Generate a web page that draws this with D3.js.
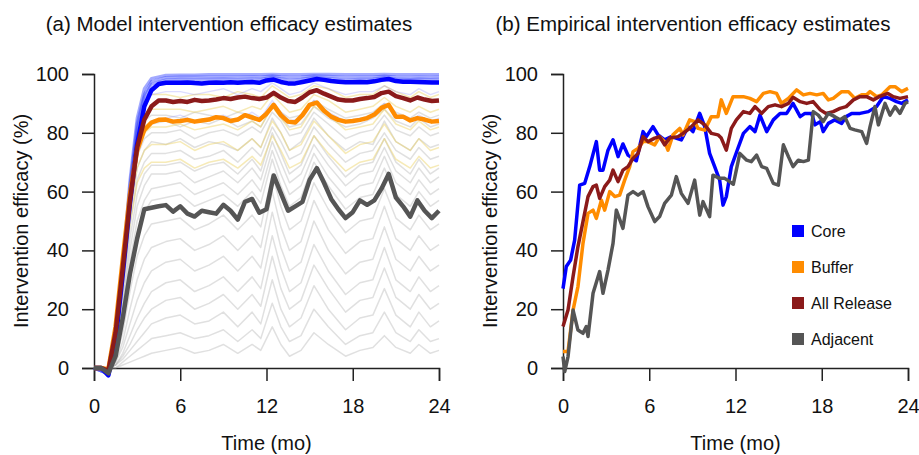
<!DOCTYPE html>
<html>
<head>
<meta charset="utf-8">
<script src="https://cdn.jsdelivr.net/npm/d3@7"></script>
<style>
  body { margin: 0; background: #fff; }
  svg { font-family: "Liberation Sans", Arial, sans-serif; }
</style>
</head>
<body>
<div id="chart"></div>
<script>
// ---- panel (a): model estimates ----
const modelTime = [0, 0.5, 1, 1.5, 2, 2.5, 3, 3.5, 4, 4.5, 5, 5.5, 6, 6.5, 7, 7.5, 8, 8.5, 9, 9.5,
    10, 10.5, 11, 11.5, 12, 12.5, 13, 13.5, 14, 14.5, 15, 15.5, 16, 16.5, 17, 17.5, 18, 18.5, 19, 19.5,
    20, 20.5, 21, 21.5, 22, 22.5, 23, 23.5, 24];
const modelCore = [0, 0, -2.5, 9, 32, 56, 76, 89, 94.5, 96.6, 97, 97, 97, 97.1, 96.9, 96.8, 97, 97.1, 97, 97.2,
    97, 97.2, 97.3, 97, 97.8, 98.1, 97.3, 96.8, 96.8, 97.3, 97.8, 98.3, 98, 97.6, 97.4, 97.2, 97.2, 97.3, 97.2, 97.5,
    98, 98.3, 97.6, 97.4, 97.4, 97.3, 97.2, 97.1, 97.1];
const modelBuffer = [0, 0, -0.5, 14, 37, 59, 74, 81, 83.5, 84.4, 84.5, 83.8, 84, 84.4, 83.8, 84.2, 84.5, 85.3, 85, 84,
    84.5, 86, 85.2, 84.4, 86.5, 89.5, 86, 83.8, 83.5, 86, 89.5, 90.3, 87.5, 85.5, 84.4, 83.8, 84, 84.4, 85, 86.2,
    88.5, 89.5, 85.5, 85.5, 84.2, 85, 84.5, 83.8, 84];
const modelRelease = [0, 0, -1, 12, 34, 57, 75, 84.5, 89, 91, 91, 90.5, 90.8, 90.5, 91.2, 90.8, 91, 91.3, 91.8, 91.5,
    92, 92.3, 91.8, 91.5, 92, 93.6, 92, 90.8, 90.5, 92, 93.8, 94.5, 93.3, 92.3, 91.3, 91, 91, 91.5, 91.8, 92.2,
    93.5, 94, 92.5, 91.8, 91, 92, 91.3, 90.8, 91];
const modelAdjacent = [0, 0, -1.8, 4, 17, 32, 44, 54, 54.5, 55, 55.4, 53.2, 55, 52.5, 51.5, 53.5, 53, 52.5, 55.5, 53.5,
    50.5, 56.5, 57.5, 52.8, 54, 65.5, 59.5, 53.5, 55, 56.5, 64, 68, 63, 57.5, 54, 51, 53, 57, 55.5, 57,
    61, 66, 58, 55, 51.5, 57, 53.5, 51, 53.5];

// individual simulation runs (faint background lines)
const simTime = [0, 1, 1.5, 2, 2.5, 3, 3.5, 4, 5, 6, 7, 8, 9, 10, 11, 11.6,
    12.4, 13, 13.6, 14.4, 15.3, 16.3, 17.5, 18.5, 19.4, 20.2, 21, 22, 22.6, 23.4, 24];
const simGrey = [
    [0, -1, 10, 35, 62, 78, 84, 86, 86, 85, 87, 86, 85, 87, 86, 84, 90, 87, 85, 86, 91, 88, 85, 86, 87, 90, 87, 85, 87, 85, 86],
    [0, -1, 9, 33, 58, 75, 81, 83, 84, 82, 84, 83, 85, 82, 84, 82, 89, 85, 82, 83, 89, 85, 82, 83, 85, 88, 84, 82, 85, 82, 83],
    [0, -1, 8, 30, 55, 72, 78, 80, 80, 81, 78, 80, 81, 79, 82, 80, 87, 84, 79, 80, 87, 83, 78, 80, 81, 86, 81, 79, 82, 79, 80],
    [0, -1, 7, 27, 51, 68, 74, 77, 76, 78, 75, 77, 76, 74, 78, 75, 85, 80, 74, 77, 85, 79, 74, 77, 76, 84, 77, 74, 78, 75, 76],
    [0, -1, 6, 25, 48, 64, 70, 73, 73, 74, 71, 72, 74, 70, 75, 72, 82, 77, 71, 73, 82, 76, 70, 73, 74, 80, 74, 71, 75, 71, 72],
    [0, -1, 5, 22, 44, 59, 66, 69, 69, 70, 67, 69, 70, 66, 71, 67, 80, 73, 66, 69, 79, 72, 65, 69, 70, 78, 70, 66, 71, 66, 68],
    [0, -1, 5, 20, 40, 55, 62, 66, 66, 67, 63, 65, 67, 63, 68, 64, 77, 70, 63, 66, 76, 69, 62, 66, 67, 75, 67, 63, 68, 63, 65],
    [0, -1, 4, 18, 36, 50, 57, 61, 62, 63, 59, 61, 63, 59, 64, 60, 74, 66, 59, 62, 73, 65, 58, 62, 63, 72, 63, 59, 64, 59, 61],
    [0, -1, 4, 16, 33, 46, 53, 57, 58, 59, 55, 57, 59, 55, 60, 56, 71, 62, 55, 58, 70, 62, 54, 58, 59, 68, 59, 55, 60, 55, 57],
    [0, -1, 3, 12, 26, 38, 45, 49, 50, 51, 47, 49, 52, 47, 52, 48, 66, 55, 47, 50, 63, 54, 46, 50, 51, 61, 51, 47, 52, 47, 49],
    [0, -1, 2, 9, 20, 30, 37, 41, 43, 44, 40, 42, 45, 40, 45, 41, 60, 48, 40, 43, 57, 47, 39, 43, 44, 55, 44, 40, 45, 40, 42],
    [0, 0, 2, 7, 15, 23, 29, 33, 36, 37, 33, 35, 38, 33, 38, 34, 53, 41, 33, 36, 50, 40, 32, 36, 37, 48, 37, 33, 38, 33, 35],
    [0, 0, 1, 5, 11, 17, 22, 26, 29, 30, 26, 28, 31, 26, 31, 27, 45, 34, 26, 29, 42, 33, 25, 29, 30, 41, 30, 26, 31, 26, 28],
    [0, 0, 1, 4, 8, 13, 17, 20, 23, 24, 20, 22, 25, 20, 25, 21, 38, 27, 20, 23, 35, 27, 19, 23, 24, 34, 24, 20, 25, 20, 22],
    [0, 0, 1, 3, 6, 9, 12, 15, 17, 18, 15, 16, 19, 14, 19, 15, 30, 20, 14, 17, 28, 20, 13, 17, 18, 27, 18, 14, 19, 14, 16],
    [0, 0, 0, 2, 4, 6, 8, 10, 11, 12, 10, 11, 13, 9, 13, 10, 22, 14, 9, 11, 20, 14, 8, 11, 12, 19, 12, 9, 13, 9, 10],
    [0, 0, 0, 1, 2, 3, 4, 5, 6, 7, 5, 6, 8, 5, 8, 6, 14, 8, 4, 6, 12, 8, 4, 6, 7, 11, 7, 5, 8, 5, 6]
];
const simYellow = [
    [0, -1, 12, 37, 64, 82, 90, 93, 93, 92, 93, 93, 92, 94, 93, 92, 96, 94, 92, 93, 96, 95, 92, 93, 93, 96, 94, 92, 94, 92, 93],
    [0, -1, 11, 35, 62, 79, 86, 88, 88, 88, 87, 88, 89, 87, 89, 88, 93, 90, 87, 88, 93, 91, 87, 88, 89, 92, 89, 87, 89, 87, 88],
    [0, -1, 10, 32, 58, 74, 80, 82, 82, 83, 81, 82, 83, 81, 84, 82, 89, 85, 81, 82, 89, 86, 81, 82, 83, 88, 83, 81, 84, 81, 82],
    [0, -1, 9, 29, 53, 68, 74, 76, 76, 77, 74, 76, 77, 74, 78, 75, 84, 80, 74, 76, 84, 79, 73, 76, 77, 83, 77, 74, 78, 74, 75],
    [0, -1, 8, 27, 49, 63, 68, 70, 70, 71, 68, 70, 71, 68, 72, 69, 79, 74, 68, 70, 79, 73, 67, 70, 71, 78, 71, 68, 72, 68, 69]
];
const simBlue = [
    [0, -2, 10, 36, 64, 85, 95, 98.5, 99.6, 99.7, 99.7, 99.8, 99.8, 99.8, 99.8, 99.8, 99.9, 99.8, 99.8, 99.8, 99.9, 99.9, 99.8, 99.8, 99.8, 99.9, 99.8, 99.8, 99.8, 99.8, 99.8],
    [0, -2, 9, 34, 62, 83, 93, 97.5, 98.8, 99, 99, 99, 99, 99, 99.1, 99, 99.4, 99.1, 98.9, 99, 99.4, 99.2, 98.9, 99, 99, 99.3, 99, 98.9, 99, 98.9, 99],
    [0, -2, 9, 33, 60, 81, 92, 96.5, 98, 98.2, 98.1, 98.2, 98.3, 98.1, 98.3, 98.2, 98.9, 98.4, 98, 98.2, 98.9, 98.5, 98, 98.2, 98.3, 98.8, 98.3, 98.1, 98.3, 98.1, 98.2]
];
const simBlueFaint = [
    [0, -1, 11, 35, 62, 80, 89, 93, 94, 94, 93, 94, 95, 93, 95, 94, 97, 95, 93, 94, 97, 95, 93, 94, 94, 96, 94, 93, 95, 93, 94],
    [0, -1, 9, 30, 55, 72, 80, 84, 85, 86, 84, 85, 86, 84, 87, 85, 91, 87, 84, 85, 91, 87, 84, 85, 86, 90, 86, 84, 86, 84, 85]
];

// ---- panel (b): empirical estimates ----
const coreTime = [0, 0.23, 0.53, 0.81, 1.16, 1.51, 1.86, 2.32, 2.55, 2.78, 3.13, 3.48, 3.83, 4.17, 4.52, 5.1, 5.57, 5.8, 6.26, 6.61,
    7.07, 7.54, 8.23, 8.7, 9.04, 9.51, 9.86, 10.2, 10.55, 10.9, 11.13, 11.36, 11.71, 12.1, 12.55, 13.0, 13.36, 13.7, 14.17, 14.63,
    15.1, 15.56, 16.0, 16.5, 16.83, 17.3, 17.53, 17.9, 18.1, 18.46, 18.9, 19.39, 19.7, 20.08, 20.66, 21.24, 21.8, 22.28, 22.75, 23.2,
    23.56, 24];
const coreValues = [27, 34.5, 36.7, 43.5, 62.2, 62.8, 68.5, 77, 67.3, 67.3, 74.1, 77.6, 71.9, 76.2, 72.4, 70.5, 80.4, 78.7, 82.1, 79.3,
    77.6, 78.7, 77.6, 82.1, 80.4, 86.6, 82.1, 73, 68.5, 63.9, 55.4, 58.3, 68.5, 73.8, 79.8, 82.1, 80.4, 86, 80.4, 84.4,
    86.6, 86.6, 90, 85.5, 86.6, 86.6, 82.7, 83.8, 80.4, 83.2, 84.4, 83.2, 85.5, 86.6, 86.6, 87.2, 88.9, 92.3, 91.7, 90.6,
    90, 91.2];
const bufferTime = [0, 0.35, 0.7, 1.04, 1.39, 1.74, 2.09, 2.32, 2.67, 2.9, 3.25, 3.6, 3.94, 4.29, 4.64, 4.87, 5.22, 5.57, 5.91, 6.38,
    6.72, 7.07, 7.3, 7.65, 8.12, 8.35, 8.81, 9.16, 9.39, 9.86, 10.32, 10.78, 11.01, 11.36, 11.83, 12.29, 12.55, 13.0, 13.47, 13.94,
    14.4, 14.86, 15.2, 15.68, 16.25, 16.72, 17.18, 17.65, 18.1, 18.46, 18.8, 19.39, 19.85, 20.3, 20.78, 21.12, 21.36, 21.82, 22.17, 22.75,
    23.1, 23.56, 24];
const bufferValues = [5.6, 5.6, 19.7, 27.7, 42.4, 52.6, 53.7, 50.9, 57.1, 53.7, 60, 58.3, 58.8, 63.9, 68.5, 73.6, 74.7, 77, 77, 75.9,
    78.7, 77, 74.1, 79.3, 81.5, 79.3, 84.4, 83.8, 81.5, 80.9, 85.5, 85.5, 91.2, 86.6, 92.3, 92.3, 92.3, 91.7, 90.6, 93.4,
    94, 93.4, 90, 91.7, 94.6, 92.9, 93.4, 92.9, 93.4, 91.2, 91.7, 94, 94, 91.7, 92.9, 92.9, 94, 92.3, 92.9, 95.7,
    95.7, 94, 95.1];
const releaseTime = [0, 0.35, 0.7, 1.04, 1.39, 1.74, 2.09, 2.32, 2.55, 2.9, 3.25, 3.48, 3.83, 4.17, 4.52, 4.87, 5.22, 5.57, 5.91, 6.38,
    6.72, 7.07, 7.42, 8.0, 8.35, 8.81, 9.39, 9.86, 10.32, 10.78, 11.01, 11.36, 11.71, 12.06, 12.55, 13.0, 13.36, 13.82, 14.28, 14.75,
    15.2, 15.68, 16.0, 16.5, 16.95, 17.4, 17.9, 18.3, 18.8, 19.27, 19.7, 20.2, 20.66, 21.12, 21.59, 22.0, 22.6, 22.98, 23.44, 24];
const releaseValues = [14.1, 19.7, 31.1, 41.3, 49.8, 58.3, 61.7, 62.2, 57.7, 61.7, 63.9, 67.3, 63.4, 67.3, 68.5, 71.3, 73, 78.7, 77, 78.2,
    78.7, 75.9, 78.2, 78.7, 79.8, 81.5, 84.4, 82.7, 79.8, 79.3, 78.2, 74.1, 81.5, 84.4, 87.2, 86.6, 88.9, 86.6, 88.9, 89.5,
    88.9, 90, 92.1, 90.6, 90, 90.6, 87.8, 86.6, 87.2, 88.3, 88.9, 91.2, 92.3, 92.3, 91.2, 92.3, 93.4, 92.3, 91.7, 92.3];
const adjacentTime = [0, 0.12, 0.35, 0.7, 1.04, 1.39, 1.62, 1.74, 2.09, 2.55, 2.78, 3.13, 3.48, 3.71, 4.17, 4.52, 4.87, 5.22, 5.57, 5.91,
    6.38, 6.72, 7.07, 7.54, 7.88, 8.23, 8.7, 9.16, 9.51, 9.74, 10.2, 10.43, 10.9, 11.25, 11.59, 11.85, 12.3, 12.78, 13.1, 13.47,
    13.82, 14.17, 14.63, 14.98, 15.33, 15.68, 16.0, 16.37, 16.72, 17.07, 17.41, 17.76, 18.1, 18.46, 18.9, 19.27, 19.6, 19.97, 20.3, 20.78,
    21.12, 21.36, 21.7, 21.94, 22.4, 22.75, 23.1, 23.44, 23.79, 24];
const adjacentValues = [3.9, -1.2, 3.9, 19.7, 12.9, 11.8, 14.1, 10.7, 25.4, 32.8, 25.4, 33.3, 42.4, 53.7, 47.5, 58.8, 60, 58.8, 60, 54.9,
    49.8, 51.5, 56, 58.8, 65.1, 59.4, 56, 63.9, 52, 56.6, 51.5, 65.6, 64.5, 64.5, 63.4, 62.5, 73, 70.7, 70.2, 72.4,
    68.5, 67.9, 62.8, 62.2, 75.9, 71.9, 68.5, 70.7, 70.2, 70.7, 87.2, 86, 83.8, 86.6, 85.5, 84.4, 85.5, 81.5, 81, 80.4,
    76.4, 82.1, 88.9, 82.7, 90, 86, 88.9, 86.6, 90, 90.6];

const legendLabels = ["Core", "Buffer", "All Release", "Adjacent"];
const colors = { Core: "#0000ff", Buffer: "#ff8c00", "All Release": "#8b1a1a", Adjacent: "#555555" };
const xTicks = [0, 6, 12, 18, 24];
const yTicks = [0, 20, 40, 60, 80, 100];

const width = 919;
const height = 455;
const plotTop = 74, plotBottom = 368;

const svg = d3.select("#chart")
    .append("svg")
    .attr("width", width)
    .attr("height", height);

svg.append("rect").attr("width", width).attr("height", height).attr("fill", "#fff");

function makePanel(left, right, title, titleX) {
    const x = d3.scaleLinear().domain([0, 24]).range([left, right]);
    const y = d3.scaleLinear().domain([0, 100]).range([plotBottom, plotTop]);
    const g = svg.append("g");

    const line = d3.line()
        .x(d => x(d[0]))
        .y(d => y(d[1]));

    // axes
    const ax = g.append("g")
        .attr("transform", `translate(0,${plotBottom})`)
        .call(d3.axisBottom(x).tickValues(xTicks).tickSizeOuter(0).tickSize(13).tickPadding(18));
    const ay = g.append("g")
        .attr("transform", `translate(${left},0)`)
        .call(d3.axisLeft(y).tickValues(yTicks).tickSizeOuter(0).tickSize(12).tickPadding(13));
    [ax, ay].forEach(a => {
        a.selectAll("path, line").attr("stroke", "#222").attr("stroke-width", 1.5);
        a.selectAll("text").attr("font-size", 20).attr("fill", "#111")
            .attr("font-family", "'Liberation Sans', Arial, sans-serif");
    });

    g.append("text")
        .attr("x", titleX).attr("y", 31)
        .attr("text-anchor", "middle")
        .attr("font-size", 20.5)
        .attr("fill", "#111")
        .text(title);

    g.append("text")
        .attr("x", (left + right) / 2).attr("y", 450)
        .attr("text-anchor", "middle")
        .attr("font-size", 20)
        .attr("fill", "#111")
        .text("Time (mo)");

    g.append("text")
        .attr("transform", `translate(${left - 66},${(plotTop + plotBottom) / 2}) rotate(-90)`)
        .attr("text-anchor", "middle")
        .attr("font-size", 20)
        .attr("fill", "#111")
        .text("Intervention efficacy (%)");

    return { g, x, y, line };
}

function createModelPanel() {
    const p = makePanel(94, 439, "(a) Model intervention efficacy estimates", 229);
    const lines = p.g.append("g");

    const drawSims = (sets, color, opacity, w) => {
        sets.forEach(vals => {
            lines.append("path")
                .datum(d3.zip(simTime, vals))
                .attr("fill", "none")
                .attr("stroke", color)
                .attr("stroke-opacity", opacity)
                .attr("stroke-width", w)
                .attr("stroke-linejoin", "round")
                .attr("d", p.line);
        });
    };
    drawSims(simGrey, "#999999", 0.3, 1.5);
    drawSims(simYellow, "#ecd060", 0.45, 1.5);
    drawSims(simBlueFaint, "#7878ff", 0.25, 1.4);
    drawSims(simBlue, "#3040ff", 0.45, 3);

    const series = [
        ["Core", modelCore],
        ["Buffer", modelBuffer],
        ["All Release", modelRelease],
        ["Adjacent", modelAdjacent]
    ];
    series.forEach(([name, vals]) => {
        lines.append("path")
            .datum(d3.zip(modelTime, vals))
            .attr("fill", "none")
            .attr("stroke", colors[name])
            .attr("stroke-width", 4.5)
            .attr("stroke-linejoin", "round")
            .attr("d", p.line);
    });
}

function createEmpiricalPanel() {
    const p = makePanel(563, 908, "(b) Empirical intervention efficacy estimates", 693);

    const series = [
        ["Core", coreTime, coreValues],
        ["Buffer", bufferTime, bufferValues],
        ["All Release", releaseTime, releaseValues],
        ["Adjacent", adjacentTime, adjacentValues]
    ];
    series.forEach(([name, t, vals]) => {
        p.g.append("path")
            .datum(d3.zip(t, vals))
            .attr("fill", "none")
            .attr("stroke", colors[name])
            .attr("stroke-width", 3.5)
            .attr("stroke-linejoin", "round")
            .attr("d", p.line);
    });

    // legend
    const legend = p.g.append("g");
    legendLabels.forEach((name, i) => {
        const cy = 231 + i * 36;
        legend.append("rect")
            .attr("x", 792).attr("y", cy - 6)
            .attr("width", 12).attr("height", 12)
            .attr("fill", colors[name]);
        legend.append("text")
            .attr("x", 811).attr("y", cy)
            .attr("dominant-baseline", "central")
            .attr("font-size", 16)
            .attr("fill", "#111")
            .text(name);
    });
}

createModelPanel();
createEmpiricalPanel();
</script>
</body>
</html>
